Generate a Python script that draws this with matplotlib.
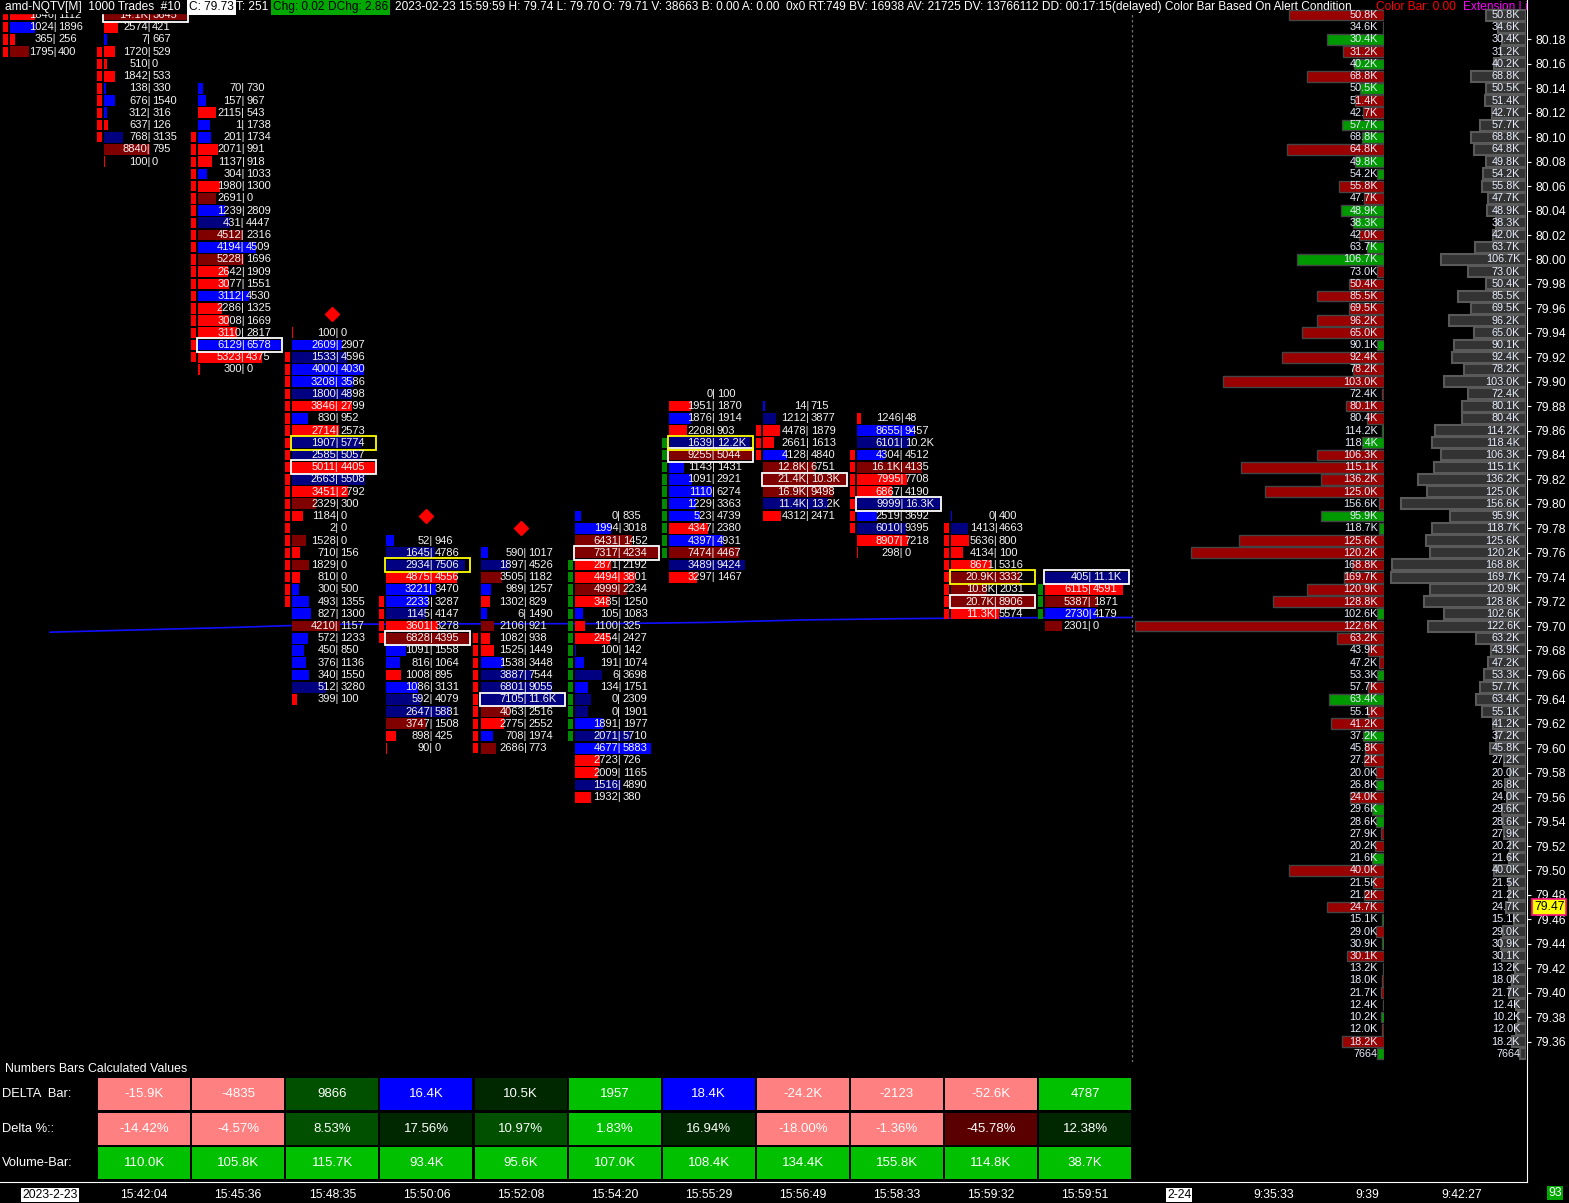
import matplotlib
matplotlib.use('Agg')
import matplotlib.pyplot as plt
from matplotlib.patches import Rectangle

# ---------------- data ----------------
# footprint bars: top price, then bid / ask per price row (top -> bottom)
bar_tops = [80.21, 80.20, 80.14, 79.94, 79.77, 79.76, 79.79, 79.89, 79.88, 79.87, 79.79, 79.74]
bids = [
    [5210, 1846, 1024, 365, 1795],
    [14100, 2574, 7, 1720, 510, 1842, 138, 676, 312, 637, 768, 8840, 100],
    [70, 157, 2115, 1, 201, 2071, 1137, 304, 1980, 2691, 1239, 431, 4512, 4194, 5228, 2642, 3077, 3112,
     2286, 3008, 3110, 6129, 5323, 300],
    [100, 2609, 1533, 4000, 3208, 1800, 3846, 830, 2714, 1907, 2585, 5011, 2663, 3451, 2329, 1184, 2, 1528,
     710, 1829, 810, 300, 493, 827, 4210, 572, 450, 376, 340, 512, 399],
    [52, 1645, 2934, 4875, 3221, 2233, 1145, 3601, 6828, 1091, 816, 1008, 1086, 592, 2647, 3747, 898, 90],
    [590, 1897, 3505, 989, 1302, 6, 2106, 1082, 1525, 1538, 3887, 6801, 7105, 4063, 2775, 708, 2686],
    [0, 1994, 6431, 7317, 2871, 4494, 4999, 3485, 105, 1100, 2454, 100, 191, 6, 134, 0, 0, 1891, 2071, 4677,
     2723, 2009, 1516, 1932],
    [0, 1951, 1876, 2208, 1639, 9255, 1143, 1091, 1110, 1229, 523, 4347, 4397, 7474, 3489, 3297],
    [14, 1212, 4478, 2661, 4128, 12800, 21400, 16900, 11400, 4312],
    [1246, 8655, 6101, 4304, 16100, 7995, 6867, 9999, 2519, 6010, 8907, 298],
    [0, 1413, 5636, 4134, 8671, 20900, 10800, 20700, 11300],
    [405, 6115, 5387, 2730, 2301],
]
asks = [
    [4590, 1112, 1896, 256, 400],
    [3645, 421, 667, 529, 0, 533, 330, 1540, 316, 126, 3135, 795, 0],
    [730, 967, 543, 1738, 1734, 991, 918, 1033, 1300, 0, 2809, 4447, 2316, 4509, 1696, 1909, 1551, 4530,
     1325, 1669, 2817, 6578, 4375, 0],
    [0, 2907, 4596, 4030, 3586, 4898, 2799, 952, 2573, 5774, 5057, 4405, 5508, 2792, 300, 0, 0, 0,
     156, 0, 0, 500, 1355, 1300, 1157, 1233, 850, 1136, 1550, 3280, 100],
    [946, 4786, 7506, 4556, 3470, 3287, 4147, 3278, 4395, 1558, 1064, 895, 3131, 4079, 5881, 1508, 425, 0],
    [1017, 4526, 1182, 1257, 829, 1490, 921, 938, 1449, 3448, 7544, 9055, 11600, 2516, 2552, 1974, 773],
    [835, 3018, 1452, 4234, 2192, 3801, 2234, 1250, 1083, 325, 2427, 142, 1074, 3698, 1751, 2309, 1901, 1977,
     5710, 5883, 726, 1165, 4890, 380],
    [100, 1870, 1914, 903, 12200, 5044, 1431, 2921, 6274, 3363, 4739, 2380, 4931, 4467, 9424, 1467],
    [715, 3877, 1879, 1613, 4840, 6751, 10300, 9498, 13200, 2471],
    [48, 9457, 10200, 4512, 4135, 7708, 4190, 16300, 3692, 9395, 7218, 0],
    [400, 4663, 800, 100, 5316, 3332, 2031, 8906, 5574],
    [11100, 4591, 1871, 4179, 0],
]
# b = blue, n = navy, r = red, m = maroon
row_colors = ["rrbrm", "mrbrrrbbbrnmr", "bbrbbrrbrmbnmbmrrbrrrbrr", "rbnbbnrbrnnrnrmrrmrmrbbbmbbbbnr",
              "bnnrbbnrmbbrbnnmrr", "bnmbrbmrrbnnnmrbm", "bbmmrrmrbrrbbnbnnbnbrrnr", "brbrnmbbbbbrbmnr",
              "bnrrbmmmnr", "rbnbmrrnbnrr", "bnrrrmmmr", "nrmbm"]
yellow_rows = [None, None, None, 9, 2, None, None, 4, None, None, 5, None]

# candle body per bar
body_top = [80.20, 80.17, 80.10, 79.92, 79.72, 79.69, 79.75, 79.85, 79.86, 79.84, 79.78, 79.73]
body_bot = [80.17, 80.10, 79.92, 79.72, 79.69, 79.60, 79.61, 79.76, 79.84, 79.78, 79.71, 79.71]
body_up = [False, False, False, False, False, False, True, True, False, False, False, True]

diamond_bars = [3, 4, 5]
diamond_prices = [79.955, 79.79, 79.78]

vwap_x = [0, 1, 2, 3, 4, 5, 6, 7, 8, 9, 10, 11, 11.5]
vwap_y = [79.695, 79.697, 79.699, 79.7015, 79.7017, 79.7019, 79.702, 79.703, 79.705, 79.706, 79.7067, 79.707, 79.707]

# volume profile (top price 80.20, one row per tick), values in K
prof_top = 80.20
prof_vol = [50.8, 34.6, 30.4, 31.2, 40.2, 68.8, 50.5, 51.4, 42.7, 57.7, 68.8, 64.8, 49.8, 54.2, 55.8, 47.7,
            48.9, 38.3, 42.0, 63.7, 106.7, 73.0, 50.4, 85.5, 69.5, 96.2, 65.0,
            90.1, 92.4, 78.2, 103.0, 72.4, 80.1, 80.4, 114.2, 118.4, 106.3, 115.1, 136.2, 125.0, 156.6, 95.9,
            118.7, 125.6, 120.2, 168.8, 169.7, 120.9, 128.8, 102.6, 122.6, 63.2, 43.9, 47.2,
            53.3, 57.7, 63.4, 55.1, 41.2, 37.2, 45.8, 27.2, 20.0, 26.8, 24.0, 29.6, 28.6, 27.9, 20.2, 21.6,
            40.0, 21.5, 21.2, 24.7, 15.1, 29.0, 30.9, 30.1, 13.2, 18.0, 21.7, 12.4, 10.2, 12.0, 18.2, 7.664]
prof_delta = [-23.7, 0.3, 14.2, -10.2, 7.5, -19.3, 6.0, -7.3, -5.2, 10.4, 5.6, -24.2, 7.3, 1.8, -11.2, -4.9,
              10.8, 7.8, -6.2, 4.2, 21.7, -1.7, -8.8, -16.8, -8.8, -16.7, -20.4,
              1.7, -25.4, -7.8, -40.3, -0.6, -9.6, -4.2, 0.4, 5.6, -16.8, -35.8, -15.8, -29.8, -1.3, 15.8,
              1.2, -36.2, -48.3, -8.1, -9.9, -19.3, -27.8, 1.8, -62.3, -11.7, -3.9, -1.2,
              1.8, -3.9, 13.7, -3.9, -13.2, 5.3, -4.8, -4.9, -2.1, 2.1, -8.5, 2.9, 2.1, -0.8, -2.3, 2.9,
              -23.7, -2.7, -4.9, -14.2, 0.4, -2.0, 0.6, -9.3, -0.3, -0.6, -0.8, -0.3, 0.8, -0.6, -10.4, 1.7]

# bottom study table
delta_bar = [-15900, -4835, 9866, 16400, 10500, 1957, 18400, -24200, -2123, -52600, 4787]
delta_pct = [-14.42, -4.57, 8.53, 17.56, 10.97, 1.83, 16.94, -18.00, -1.36, -45.78, 12.38]
volume_bar = [110000, 105800, 115700, 93400, 95600, 107000, 108400, 134400, 155800, 114800, 38700]
delta_bar_colors = ['#ff8080', '#ff8080', '#005000', '#0000ff', '#002800', '#00c000', '#0000ff',
                    '#ff8080', '#ff8080', '#ff8080', '#00c000']
delta_pct_colors = ['#ff8080', '#ff8080', '#005000', '#002800', '#005000', '#00c000', '#002800',
                    '#ff8080', '#ff8080', '#5a0000', '#002800']
volume_colors = ['#00c000'] * 11
row_names = ['DELTA  Bar:', 'Delta %::', 'Volume-Bar:']

time_labels = ['2023-2-23', '15:42:04', '15:45:36', '15:48:35', '15:50:06', '15:52:08', '15:54:20',
               '15:55:29', '15:56:49', '15:58:33', '15:59:32', '15:59:51', '2-24', '9:35:33', '9:39', '9:42:27']

# ---------------- layout ----------------
W, H = 1569, 1203
STEP = 94.1          # pixels per bar
PPT = 1222.0         # pixels per 1.00 of price
PX = 1 / STEP        # one pixel in bar units
SANS = ['Liberation Sans', 'DejaVu Sans']
FP_COL = {'b': '#0000ff', 'n': '#000080', 'r': '#ff0000', 'm': '#800000'}


def rect(x0, y0, x1, y1):
    return [x0 / W, 1 - y1 / H, (x1 - x0) / W, (y1 - y0) / H]


def fmt(v):
    return f"{v / 1000:.1f}K" if abs(v) >= 10000 else str(v)


def fmt_k(v):
    return f"{v:.1f}K" if v >= 10 else str(round(v * 1000))


fig = plt.figure(figsize=(W / 100, H / 100), dpi=100, facecolor='black')

ax = fig.add_axes(rect(0, 0, 1527, 1062))
ax.set_facecolor('black')
ax.set_xlim(-50 * PX, 1477 * PX)
for s in ['top', 'left', 'bottom']:
    ax.spines[s].set_visible(False)
ax.spines['right'].set_color('white')
ax.set_xticks([])
ax.yaxis.tick_right()
yt = [round(79.36 + 0.02 * k, 2) for k in range(42)]
ax.set_yticks(yt)
ax.set_yticklabels([f"{t:.2f}" for t in yt], family=SANS, fontsize=8.7)
ax.tick_params(axis='y', colors='white', length=3, pad=3)

# vwap line and dotted session line
ax.plot(vwap_x, vwap_y, color='#1010ff', lw=1.2, zorder=1)
ax.axvline(11.5, color='#707070', lw=0.9, ls=(0, (2, 2)), zorder=1)

# footprint columns
for i in range(12):
    prices = [round(bar_tops[i] - 0.01 * k, 2) for k in range(len(bids[i]))]
    tot = [b + a for b, a in zip(bids[i], asks[i])]
    mx = max(tot)
    ax.barh(prices, [t / mx * 84 * PX for t in tot], left=i - 40 * PX, height=0.0088,
            color=[FP_COL[c] for c in row_colors[i]], zorder=2)
    for p, b, a in zip(prices, bids[i], asks[i]):
        ax.text(i + 6.5 * PX, p, fmt(b) + '|', ha='right', va='center', color='#f4f4f4',
                family=SANS, fontsize=8, zorder=4, clip_on=True)
        ax.text(i + 8 * PX, p, fmt(a), ha='left', va='center', color='#f4f4f4',
                family=SANS, fontsize=8, zorder=4, clip_on=True)
    k = tot.index(mx)
    ax.add_patch(Rectangle((i - 41 * PX, prices[k] - 0.0056), 85 * PX, 0.0112, fill=False,
                           edgecolor='white', lw=1.3, zorder=3))
    if yellow_rows[i] is not None:
        p = prices[yellow_rows[i]]
        ax.add_patch(Rectangle((i - 41 * PX, p - 0.0056), 85 * PX, 0.0112, fill=False,
                               edgecolor='#ffff00', lw=1.3, zorder=3))
    # candle body drawn as one square per price row
    n = int(round((body_top[i] - body_bot[i]) / 0.01)) + 1
    ax.barh([body_top[i] - 0.01 * k for k in range(n)], 5 * PX, left=i - 47 * PX, height=0.0085,
            color='#008800' if body_up[i] else '#ff0000', zorder=2)

ax.plot(diamond_bars, diamond_prices, 'D', color='#ff0000', ms=7.5, zorder=3)

# profile: delta (left) and volume (right)
prof_prices = [round(prof_top - 0.01 * k, 2) for k in range(len(prof_vol))]
ax_d = fig.add_axes(rect(1130, 0, 1384, 1062), sharey=ax)
ax_d.set_xlim(254 / 4, 0)
ax_d.axis('off')
ax_d.barh(prof_prices, [abs(d) for d in prof_delta], height=0.0088,
          color=['#009900' if d > 0 else '#990000' for d in prof_delta], edgecolor='#444444', lw=1)
for p, v in zip(prof_prices, prof_vol):
    ax_d.text(1.5, p, fmt_k(v), ha='right', va='center', color='#e8eeff', family=SANS,
              fontsize=7.8, clip_on=True)

ax_v = fig.add_axes(rect(1130, 0, 1526, 1062), sharey=ax)
ax_v.set_xlim(396 / (135 / 169.7), 0)
ax_v.axis('off')
ax_v.barh(prof_prices, prof_vol, height=0.009, color='#333333', edgecolor='#5a5a5a', lw=1.5)
for p, v in zip(prof_prices, prof_vol):
    ax_v.text(7.5, p, fmt_k(v), ha='right', va='center', color='#e8eeff', family=SANS,
              fontsize=7.8, clip_on=True)
ax.set_ylim(80.18 - 1022.5 / PPT, 80.18 + 39.5 / PPT)

ax.annotate('79.47', xy=(1, 79.47), xycoords=('axes fraction', 'data'), xytext=(5, 0),
            textcoords='offset points', ha='left', va='center', color='black', family=SANS, fontsize=8.7,
            bbox=dict(facecolor='#ffff00', edgecolor='#ff1080', pad=1.2, lw=1.2), zorder=10,
            annotation_clip=False)

# header line
ax.add_patch(Rectangle((0, 1 - 13 / 1062), 1, 13 / 1062, transform=ax.transAxes, color='black', zorder=8))
hy = 1 - 7 / 1062
head = [
    (5, 'amd-NQTV[M]  1000 Trades  #10', 'white', None),
    (189, 'C: 79.73', 'black', 'white'),
    (236, 'T: 251', 'white', None),
    (273, 'Chg: 0.02', 'black', '#00a800'),
    (328, 'DChg: 2.86', 'black', '#00a800'),
    (395, '2023-02-23 15:59:59 H: 79.74 L: 79.70 O: 79.71 V: 38663 B: 0.00 A: 0.00', 'white', None),
    (786, '0x0 RT:749 BV: 16938 AV: 21725 DV: 13766112 DD: 00:17:15(delayed) Color Bar Based On Alert Condition',
     'white', None),
    (1376, 'Color Bar: 0.00', '#ff0000', None),
    (1463, 'Extension Line', '#ff00ff', None),
]
for x, s, c, bg in head:
    t = ax.text(x / 1527, hy, s, transform=ax.transAxes, ha='left', va='center', color=c,
                family=SANS, fontsize=8.6, zorder=9, clip_on=True)
    if bg:
        t.set_bbox(dict(facecolor=bg, edgecolor='none', pad=1.2))

# bottom table
ax_t = fig.add_axes(rect(0, 1062, 1527, 1182), sharex=ax)
ax_t.set_facecolor('black')
ax_t.set_ylim(2.536, -0.922)
for s in ['top', 'left']:
    ax_t.spines[s].set_visible(False)
ax_t.spines['right'].set_color('white')
ax_t.spines['bottom'].set_color('white')
ax_t.set_yticks([])
cols = list(range(1, 12))
rows = [([fmt(v) for v in delta_bar], delta_bar_colors),
        ([f"{v:.2f}%" for v in delta_pct], delta_pct_colors),
        ([fmt(v) for v in volume_bar], volume_colors)]
for r, (labels, colors) in enumerate(rows):
    ax_t.bar(cols, 0.92, width=92 * PX, bottom=r - 0.46, color=colors)
    for x, s in zip(cols, labels):
        ax_t.text(x, r, s, ha='center', va='center', color='white', family=SANS, fontsize=9.5)
    ax_t.text(-48 * PX, r, row_names[r], ha='left', va='center', color='white', family=SANS, fontsize=9.3)
ax_t.text(-45 * PX, -0.72, 'Numbers Bars Calculated Values', ha='left', va='center', color='white',
          family=SANS, fontsize=8.9)

ax_t.set_xticks(range(16))
ax_t.set_xticklabels(time_labels, family=SANS, fontsize=8.8)
ax_t.tick_params(axis='x', colors='white', length=0, pad=5)
for k in (0, 12):
    lbl = ax_t.get_xticklabels()[k]
    lbl.set_color('black')
    lbl.set_bbox(dict(facecolor='white', edgecolor='none', pad=0.8))
fig.text(1548 / W, 1 - 1193 / H, '93', ha='left', va='center', color='white', family=SANS, fontsize=8.8,
         bbox=dict(facecolor='#00a800', edgecolor='none', pad=1))

fig.savefig('out.png', dpi=100, facecolor='black')
